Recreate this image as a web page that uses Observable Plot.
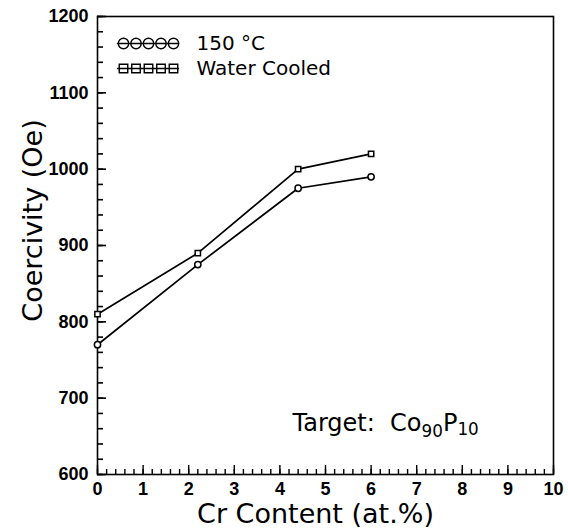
<!DOCTYPE html>
<html>
<head>
<meta charset="utf-8">
<script src="https://cdn.jsdelivr.net/npm/d3@7"></script>
<script src="https://cdn.jsdelivr.net/npm/@observablehq/plot@0.6"></script>
<style>
  html, body { margin: 0; padding: 0; background: #fff; }
  #chart { width: 568px; height: 530px; }
</style>
</head>
<body>
<div id="chart"></div>
<script>
// ---- data ----
const crContent = [0, 2.2, 4.4, 6];
const coercivity150C = [770, 875, 975, 990];
const coercivityWaterCooled = [810, 890, 1000, 1020];
const seriesNames = ["150 °C", "Water Cooled"];
const seriesSymbols = ["circle", "square"];
const xTickLabels = [0, 1, 2, 3, 4, 5, 6, 7, 8, 9, 10];
const yTickLabels = [600, 700, 800, 900, 1000, 1100, 1200];
const xMinorTicks = d3.range(0, 10.0001, 0.2).map(v => +v.toFixed(1));
const yMinorTicks = d3.range(600, 1200.001, 20);
const xTitle = "Cr Content (at.%)";
const yTitle = "Coercivity (Oe)";
const annotation = "Target: Co90P10";

const rows = [];
crContent.forEach((x, i) => {
  rows.push({series: seriesNames[0], x, y: coercivity150C[i]});
  rows.push({series: seriesNames[1], x, y: coercivityWaterCooled[i]});
});

const W = 568, H = 530;
const mL = 97, mR = 15, mT = 16, mB = 56;
const plotW = W - mL - mR, plotH = H - mT - mB;

const tickFont = "Liberation Sans, Arial, sans-serif";
const titleFont = "DejaVu Sans, sans-serif";

const legendMarks = [];
seriesNames.forEach((name, k) => {
  const dy = 27 + k * 25;
  legendMarks.push(Plot.vector([0], {
    frameAnchor: "top-left", dx: 20, dy, rotate: 90, length: 61,
    anchor: "start", shape: "spike", r: 0, stroke: "black", strokeWidth: 1.4
  }));
  [0, 1, 2, 3, 4].forEach(j => {
    legendMarks.push(Plot.dot([0], {
      frameAnchor: "top-left", dx: 26 + j * 12.5, dy,
      symbol: seriesSymbols[k], r: k === 0 ? 5.2 : 4.8,
      stroke: "black", fill: "none", strokeWidth: 1.4
    }));
  });
  legendMarks.push(Plot.text([name], {
    frameAnchor: "top-left", dx: 99, dy, textAnchor: "start", lineAnchor: "middle",
    fontSize: 20, fontFamily: titleFont, fill: "black", letterSpacing: 1.5
  }));
});

const chart = Plot.plot({
  width: W, height: H,
  marginLeft: mL, marginRight: mR, marginTop: mT, marginBottom: mB,
  x: {domain: [0, 10]},
  y: {domain: [600, 1200]},
  style: {background: "white", overflow: "visible"},
  marks: [
    // inward minor & major ticks
    Plot.tickX(xMinorTicks, {x: d => d, insetTop: plotH - 5, stroke: "black", strokeWidth: 1.4}),
    Plot.tickX(xTickLabels, {x: d => d, insetTop: plotH - 9, stroke: "black", strokeWidth: 1.4}),
    Plot.tickY(yMinorTicks, {y: d => d, insetRight: plotW - 6, stroke: "black", strokeWidth: 1.6}),
    Plot.tickY(yTickLabels, {y: d => d, insetRight: plotW - 9, stroke: "black", strokeWidth: 1.6}),
    Plot.axisX(xTickLabels, {tickSize: 0, tickPadding: 8, fontSize: 18, fontWeight: "bold", fontFamily: tickFont, label: null, tickFormat: d => String(d)}),
    Plot.axisY(yTickLabels, {tickSize: 0, tickPadding: 9, fontSize: 18, fontWeight: "bold", fontFamily: tickFont, label: null, tickFormat: d => String(d)}),
    Plot.frame({stroke: "black", strokeWidth: 1.6}),
    // data
    Plot.line(rows, {x: "x", y: "y", z: "series", stroke: "black", strokeWidth: 1.7}),
    Plot.dot(rows, {x: "x", y: "y", symbol: "series", r: d => d.series === seriesNames[0] ? 6 : 5.5, stroke: "black", fill: "white", strokeWidth: 1.5}),
    ...legendMarks,
    Plot.text([annotation], {frameAnchor: "top-left", dx: 195, dy: 407, textAnchor: "start", lineAnchor: "middle", fontSize: 24, fontFamily: titleFont, fill: "black", letterSpacing: 2}),
    Plot.text([xTitle], {frameAnchor: "bottom", dx: -10, dy: 40, textAnchor: "middle", lineAnchor: "middle", fontSize: 27, fontFamily: titleFont, fill: "black", letterSpacing: 3.3}),
    Plot.text([yTitle], {frameAnchor: "left", dx: -64, dy: -25, rotate: -90, textAnchor: "middle", lineAnchor: "middle", fontSize: 27, fontFamily: titleFont, fill: "black", letterSpacing: 3})
  ],
  symbol: {domain: seriesNames, range: seriesSymbols}
});

// subscripts in the annotation
d3.select(chart).selectAll("text").each(function() {
  if (this.textContent === annotation) {
    const t = d3.select(this);
    t.text(null);
    t.append("tspan").text("Target:  Co");
    t.append("tspan").attr("font-size", "70%").attr("dy", "0.35em").text("90");
    t.append("tspan").attr("dy", "-0.245em").text("P");
    t.append("tspan").attr("font-size", "70%").attr("dy", "0.245em").text("10");
  }
});

document.getElementById("chart").appendChild(chart);
</script>
</body>
</html>
